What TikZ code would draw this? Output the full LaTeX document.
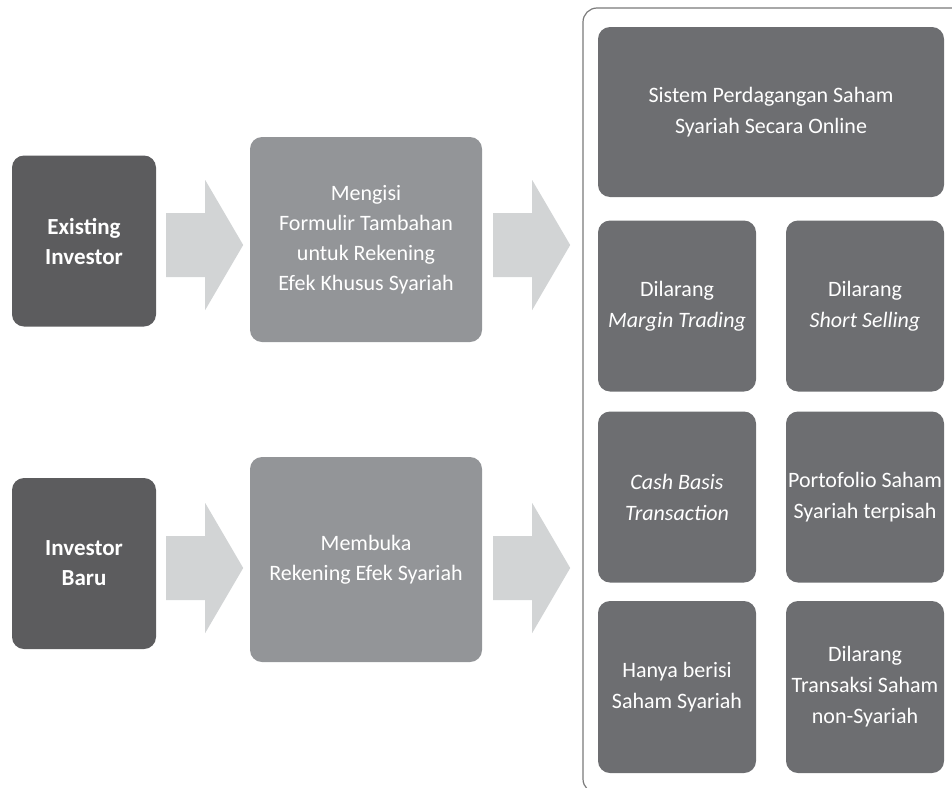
\documentclass[tikz,border=0pt]{standalone}
\usepackage{fontspec}
\setmainfont{Carlito}
\definecolor{stepdark}{HTML}{5C5C5E}
\definecolor{stepmid}{HTML}{939598}
\definecolor{rulebox}{HTML}{6D6E71}
\definecolor{arrowgrey}{HTML}{D2D4D5}
\definecolor{panelline}{HTML}{7A7A7A}
\tikzset{
  card/.style={rounded corners=12pt, inner sep=0pt, align=center, text=white,
    font=\fontsize{22}{30}\selectfont},
  investor/.style={card, fill=stepdark, minimum width=144pt, minimum height=171pt,
    font=\fontsize{23}{30}\selectfont\bfseries},
  action/.style={card, fill=stepmid, minimum width=232pt, minimum height=205pt},
  rule/.style={card, fill=rulebox, minimum width=158pt, minimum height=171pt,
    font=\fontsize{22}{31}\selectfont},
  blockarrow/.pic={
    \fill[arrowgrey] (0,-32) -- (39,-32) -- (39,-65) -- (77,0) -- (39,65)
      -- (39,32) -- (0,32) -- cycle;
  }
}
\begin{document}
\begin{tikzpicture}[x=1pt,y=-1pt]
\useasboundingbox (0,0) rectangle (952,787);
\clip (0,0) rectangle (952,787);

% left column: investor types
\node[investor] (ei) at (84,241) {Existing\\Investor};
\node[investor] (ib) at (84,563.5) {Investor\\Baru};

% middle column: account steps
\node[action] (m1) at (366,239.5) {Mengisi\\Formulir Tambahan\\untuk Rekening\\Efek Khusus Syariah};
\node[action] (m2) at (366,559.5) {Membuka\\Rekening Efek Syariah};

% right panel with trading rules (runs past the right and bottom edges)
\draw[panelline, line width=1.2pt, rounded corners=14pt] (583,8) rectangle (990,793);
\node[rule, minimum width=346pt, minimum height=170pt] (top) at (771,112)
  {Sistem Perdagangan Saham\\Syariah Secara Online};
\node[rule] (r11) at (677,306) {Dilarang\\\textit{Margin Trading}};
\node[rule] (r12) at (865,306) {Dilarang\\\textit{Short Selling}};
\node[rule] (r21) at (677,497) {\textit{Cash Basis}\\\textit{Transaction}};
\node[rule] (r22) at (865,497) {Portofolio Saham\\Syariah terpisah};
\node[rule, minimum height=172pt] (r31) at (677,687) {Hanya berisi\\Saham Syariah};
\node[rule, minimum height=172pt] (r32) at (865,687) {Dilarang\\Transaksi Saham\\non-Syariah};

% block arrows between the columns
\path (ei.east) ++(10,4) pic {blockarrow};
\path (m1.east) ++(11,5.5) pic {blockarrow};
\path (ib.east) ++(10,4.5) pic {blockarrow};
\path (m2.east) ++(11,8.5) pic {blockarrow};
\end{tikzpicture}
\end{document}
